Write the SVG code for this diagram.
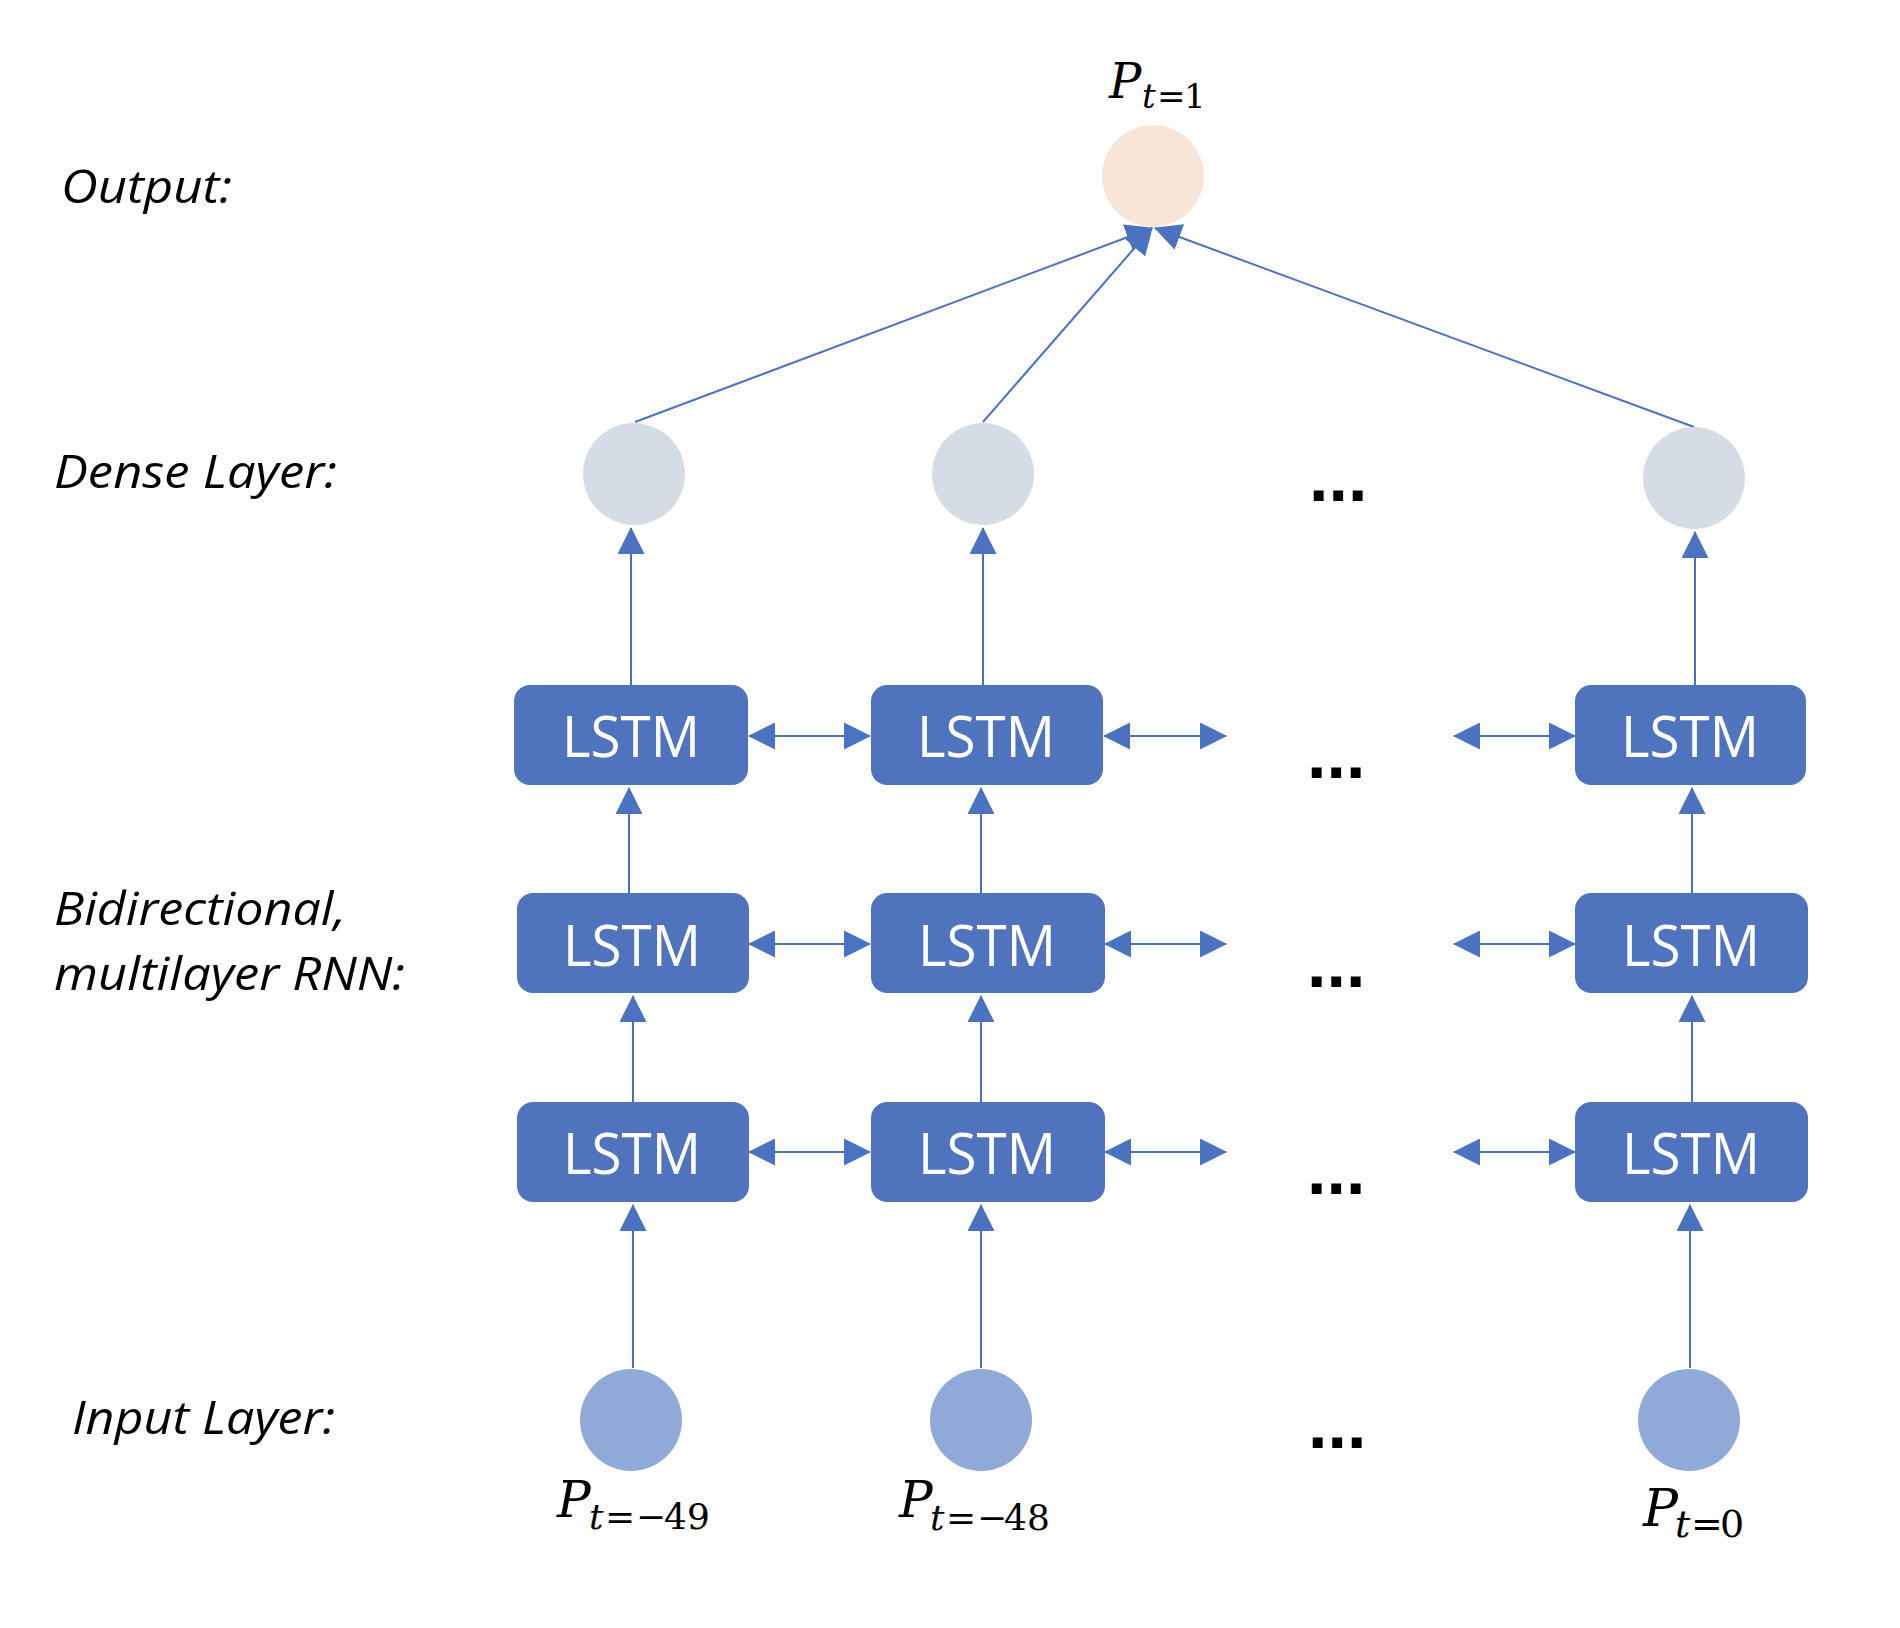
<svg xmlns="http://www.w3.org/2000/svg" width="1900" height="1628" viewBox="0 0 1900 1628">
<defs>
<style>
.lbl{font-family:"Open Sans","Noto Sans","Liberation Sans",sans-serif;font-style:italic;font-size:46px;fill:#000}
.box{fill:#4F74BD}
.lt{font-family:"Open Sans","Noto Sans","Liberation Sans",sans-serif;font-size:57px;fill:#fff;text-anchor:middle}
.dn{fill:#D6DCE5}
.in{fill:#91A9D8}
.out{fill:#F9E5D8}
.c{stroke:#4A72C1;stroke-width:2;fill:none}
.one{marker-end:url(#ah)}
.two{marker-start:url(#ah);marker-end:url(#ah)}
.dots{font-family:"Liberation Sans",Arial,sans-serif;font-weight:bold;font-size:70px;fill:#000}
.m{font-family:"DejaVu Serif","Liberation Serif",serif;fill:#000}
.mi{font-style:italic}
</style>
<marker id="ah" markerUnits="userSpaceOnUse" markerWidth="27" markerHeight="27" viewBox="0 0 27 27" refX="26" refY="13.5" orient="auto-start-reverse">
<path d="M0,0 L27,13.5 L0,27 z" fill="#4A72C1"/>
</marker>
</defs>
<rect width="1900" height="1628" fill="#fff"/>

<g id="labels">
<text class="lbl" x="61" y="203" textLength="171" lengthAdjust="spacingAndGlyphs">Output:</text>
<text class="lbl" x="54" y="488" textLength="283" lengthAdjust="spacingAndGlyphs">Dense Layer:</text>
<text class="lbl" x="54" y="925" textLength="292" lengthAdjust="spacingAndGlyphs">Bidirectional,</text>
<text class="lbl" x="54" y="990" textLength="351" lengthAdjust="spacingAndGlyphs">multilayer RNN:</text>
<text class="lbl" x="72" y="1434" textLength="263" lengthAdjust="spacingAndGlyphs">Input Layer:</text>
</g>

<g id="connectors">
<!-- to output -->
<line class="c one" x1="635" y1="422" x2="1152" y2="228"/>
<line class="c one" x1="983" y1="422" x2="1152" y2="228"/>
<line class="c one" x1="1694" y1="427" x2="1155" y2="228"/>
<!-- col1 verticals -->
<line class="c one" x1="631" y1="685" x2="631" y2="528"/>
<line class="c one" x1="629" y1="893" x2="629" y2="788"/>
<line class="c one" x1="633" y1="1102" x2="633" y2="996"/>
<line class="c one" x1="633" y1="1368" x2="633" y2="1205"/>
<!-- col2 verticals -->
<line class="c one" x1="983" y1="685" x2="983" y2="528"/>
<line class="c one" x1="981" y1="893" x2="981" y2="788"/>
<line class="c one" x1="981" y1="1102" x2="981" y2="996"/>
<line class="c one" x1="981" y1="1368" x2="981" y2="1205"/>
<!-- right verticals -->
<line class="c one" x1="1695" y1="685" x2="1695" y2="532"/>
<line class="c one" x1="1692" y1="893" x2="1692" y2="788"/>
<line class="c one" x1="1692" y1="1102" x2="1692" y2="996"/>
<line class="c one" x1="1690" y1="1368" x2="1690" y2="1205"/>
<!-- horizontal double arrows -->
<line class="c two" x1="749" y1="736" x2="870" y2="736"/>
<line class="c two" x1="1104" y1="736" x2="1226" y2="736"/>
<line class="c two" x1="1454" y1="736" x2="1575" y2="736"/>
<line class="c two" x1="749" y1="944" x2="870" y2="944"/>
<line class="c two" x1="1105" y1="944" x2="1226" y2="944"/>
<line class="c two" x1="1454" y1="944" x2="1575" y2="944"/>
<line class="c two" x1="749" y1="1152" x2="870" y2="1152"/>
<line class="c two" x1="1105" y1="1152" x2="1226" y2="1152"/>
<line class="c two" x1="1454" y1="1152" x2="1575" y2="1152"/>
</g>

<g id="output">
<circle class="out" cx="1153" cy="176" r="51"/>
<text class="m" y="98"><tspan class="mi" x="1109" font-size="48">P</tspan><tspan class="mi" x="1142" y="108" font-size="34">t</tspan><tspan x="1157" y="108" font-size="34">=</tspan><tspan x="1184" y="108" font-size="34">1</tspan></text>
</g>

<g id="dense1"><circle class="dn" cx="634" cy="474" r="51"/></g>
<g id="dense2"><circle class="dn" cx="983" cy="474" r="51"/></g>
<g id="dense3"><circle class="dn" cx="1694" cy="478" r="51"/></g>

<g id="lstm-r1c1"><rect class="box" x="514" y="685" width="234" height="100" rx="16"/><text class="lt" x="631" y="757" textLength="138" lengthAdjust="spacingAndGlyphs">LSTM</text></g>
<g id="lstm-r1c2"><rect class="box" x="871" y="685" width="232" height="100" rx="16"/><text class="lt" x="986" y="757" textLength="138" lengthAdjust="spacingAndGlyphs">LSTM</text></g>
<g id="lstm-r1c3"><rect class="box" x="1575" y="685" width="231" height="100" rx="16"/><text class="lt" x="1690" y="757" textLength="138" lengthAdjust="spacingAndGlyphs">LSTM</text></g>

<g id="lstm-r2c1"><rect class="box" x="517" y="893" width="232" height="100" rx="16"/><text class="lt" x="632" y="966" textLength="138" lengthAdjust="spacingAndGlyphs">LSTM</text></g>
<g id="lstm-r2c2"><rect class="box" x="871" y="893" width="234" height="100" rx="16"/><text class="lt" x="987" y="966" textLength="138" lengthAdjust="spacingAndGlyphs">LSTM</text></g>
<g id="lstm-r2c3"><rect class="box" x="1575" y="893" width="233" height="100" rx="16"/><text class="lt" x="1691" y="966" textLength="138" lengthAdjust="spacingAndGlyphs">LSTM</text></g>

<g id="lstm-r3c1"><rect class="box" x="517" y="1102" width="232" height="100" rx="16"/><text class="lt" x="632" y="1174" textLength="138" lengthAdjust="spacingAndGlyphs">LSTM</text></g>
<g id="lstm-r3c2"><rect class="box" x="871" y="1102" width="234" height="100" rx="16"/><text class="lt" x="987" y="1174" textLength="138" lengthAdjust="spacingAndGlyphs">LSTM</text></g>
<g id="lstm-r3c3"><rect class="box" x="1575" y="1102" width="233" height="100" rx="16"/><text class="lt" x="1691" y="1174" textLength="138" lengthAdjust="spacingAndGlyphs">LSTM</text></g>

<g id="input1">
<circle class="in" cx="631" cy="1420" r="51"/>
<text class="m" y="1517"><tspan class="mi" x="557" font-size="50">P</tspan><tspan class="mi" x="589" y="1529" font-size="36">t</tspan><tspan x="605" y="1529" font-size="36">=</tspan><tspan x="636" y="1529" font-size="36">−</tspan><tspan x="664" y="1529" font-size="36">49</tspan></text>
</g>
<g id="input2">
<circle class="in" cx="981" cy="1420" r="51"/>
<text class="m" y="1517"><tspan class="mi" x="899" font-size="50">P</tspan><tspan class="mi" x="930" y="1530" font-size="36">t</tspan><tspan x="946" y="1530" font-size="36">=</tspan><tspan x="977" y="1530" font-size="36">−</tspan><tspan x="1004" y="1530" font-size="36">48</tspan></text>
</g>
<g id="input3">
<circle class="in" cx="1689" cy="1420" r="51"/>
<text class="m" y="1526"><tspan class="mi" x="1643" font-size="52">P</tspan><tspan class="mi" x="1675" y="1537" font-size="38">t</tspan><tspan x="1691" y="1537" font-size="38">=</tspan><tspan x="1720" y="1537" font-size="38">0</tspan></text>
</g>

<g id="ellipses">
<text class="dots" x="1309" y="501">...</text>
<text class="dots" x="1307" y="778">...</text>
<text class="dots" x="1307" y="987">...</text>
<text class="dots" x="1307" y="1194">...</text>
<text class="dots" x="1308" y="1448">...</text>
</g>
</svg>
